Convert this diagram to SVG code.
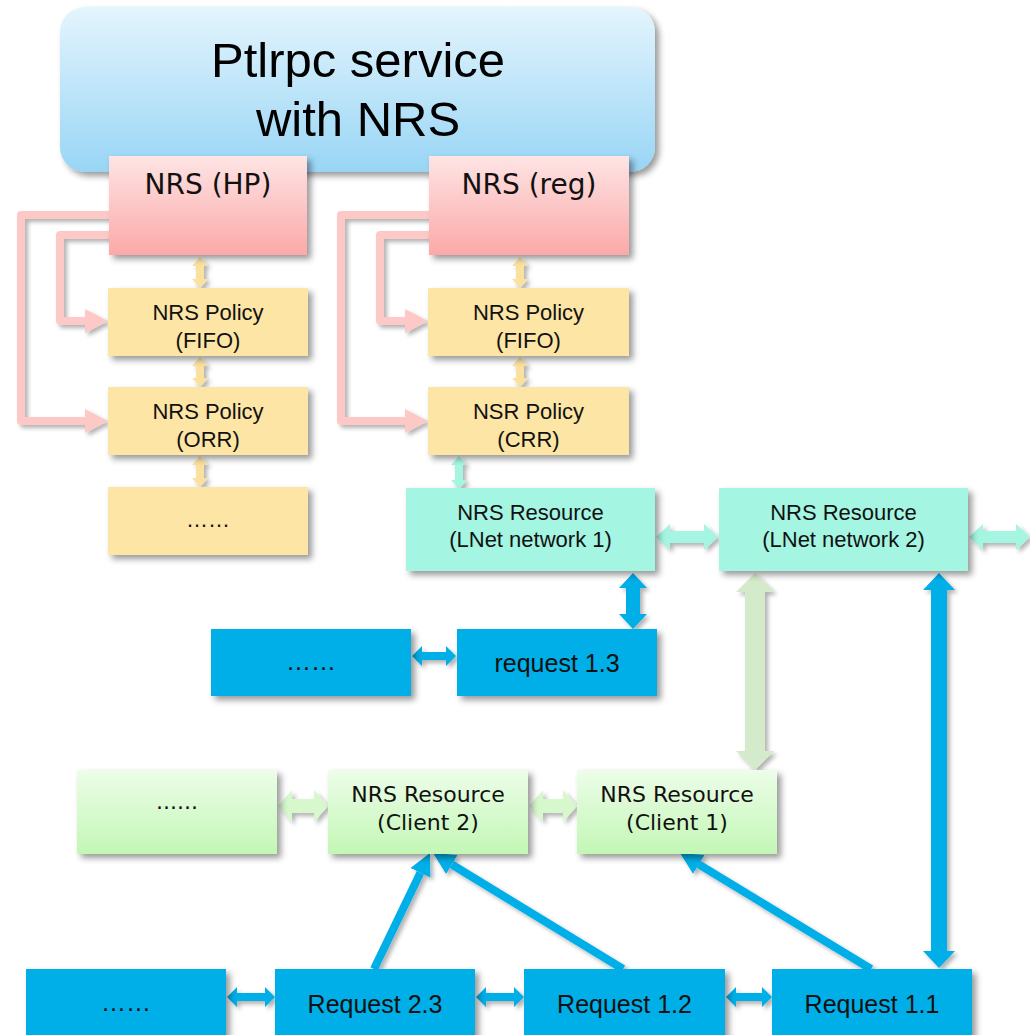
<svg xmlns="http://www.w3.org/2000/svg" width="1030" height="1035" viewBox="0 0 1030 1035">
<defs>
<linearGradient id="gTitle" x1="0" y1="0" x2="0" y2="1"><stop offset="0" stop-color="#e4f5fd"/><stop offset="1" stop-color="#98d5f5"/></linearGradient>
<linearGradient id="gPink" x1="0" y1="0" x2="0" y2="1"><stop offset="0" stop-color="#fee4e4"/><stop offset="1" stop-color="#fba9a8"/></linearGradient>
<linearGradient id="gGreen" x1="0" y1="0" x2="0" y2="1"><stop offset="0" stop-color="#edfde9"/><stop offset="1" stop-color="#c3f7b5"/></linearGradient>
<filter id="sh" x="-10%" y="-10%" width="130%" height="140%"><feDropShadow dx="4" dy="4" stdDeviation="3" flood-color="#000" flood-opacity="0.4"/></filter>
<filter id="shc" x="-20%" y="-20%" width="150%" height="150%"><feDropShadow dx="3" dy="3" stdDeviation="2" flood-color="#000" flood-opacity="0.3"/></filter>
<marker id="ah" viewBox="0 -12 22 24" refX="0" refY="0" markerWidth="22" markerHeight="24" markerUnits="userSpaceOnUse" orient="auto"><path d="M0,-11 L22,0 L0,11 z" fill="#00aee8"/></marker>
<style>
.box{filter:url(#sh);}
.yel{fill:#fde5a5;}
.teal{fill:#a4f5e1;}
.blue{fill:#00aee8;}
.t{font-family:"Liberation Sans",Arial,sans-serif;font-size:22px;fill:#111;text-anchor:middle;}
.tb{font-family:"Liberation Sans",Arial,sans-serif;font-size:25px;fill:#111;text-anchor:middle;}
.v{font-family:"DejaVu Sans",Verdana,sans-serif;font-size:22px;fill:#111;text-anchor:middle;}
.vl{font-family:"DejaVu Sans",Verdana,sans-serif;font-size:28px;fill:#111;text-anchor:middle;}
.title{font-family:"Liberation Sans",Arial,sans-serif;font-size:49px;fill:#000;text-anchor:middle;}
.pk{fill:none;stroke:#fdc9c7;stroke-width:8;stroke-linejoin:round;}
.pkh{fill:#fdc9c7;}
.ya{fill:#fbe1a0;}
.diag{stroke:#00aee8;stroke-width:8;fill:none;}
</style>
</defs>
<rect width="1030" height="1035" fill="#fff"/>

<g id="title">
<rect class="box" x="60" y="7" width="595" height="165" rx="25" fill="url(#gTitle)"/>
<text class="title" x="358" y="77">Ptlrpc service</text>
<text class="title" x="358" y="136">with NRS</text>
</g>

<g id="connectors" filter="url(#shc)">
<path class="pk" d="M110,215 H21 V421 H87"/>
<polygon class="pkh" points="85,409 108,421 85,433"/>
<path class="pk" d="M110,235 H60 V321 H87"/>
<polygon class="pkh" points="85,309 108,321 85,333"/>
<path class="pk" d="M430,215 H341 V421 H407"/>
<polygon class="pkh" points="405,409 428,421 405,433"/>
<path class="pk" d="M430,235 H380 V321 H407"/>
<polygon class="pkh" points="405,309 428,321 405,333"/>

<polygon class="ya" points="200,257 208,266 204,266 204,279 208,279 200,288 192,279 196,279 196,266 192,266"/>
<polygon class="ya" points="200,357 208,366 204,366 204,378 208,378 200,387 192,378 196,378 196,366 192,366"/>
<polygon class="ya" points="200,456 208,465 204,465 204,478 208,478 200,487 192,478 196,478 196,465 192,465"/>
<polygon class="ya" points="520,257 528,266 524,266 524,279 528,279 520,288 512,279 516,279 516,266 512,266"/>
<polygon class="ya" points="520,357 528,366 524,366 524,378 528,378 520,387 512,378 516,378 516,366 512,366"/>
<polygon class="teal" points="459,456 467,465 463,465 463,480 467,480 459,489 451,480 455,480 455,465 451,465"/>

<polygon class="teal" points="656,537 670,524 670,531 704,531 704,524 718,537 704,550 704,543 670,543 670,550"/>
<polygon class="teal" points="969,537 983,524 983,531 1016,531 1016,524 1030,537 1016,550 1016,543 983,543 983,550"/>

<polygon class="blue" points="633,573 647,588 640,588 640,614 647,614 633,629 619,614 626,614 626,588 619,588"/>
<polygon class="blue" points="412,656 422,646 422,652 446,652 446,646 456,656 446,666 446,660 422,660 422,666"/>
<polygon fill="#d3ebca" points="755,573 774,592 765,592 765,751 774,751 755,770 736,751 745,751 745,592 736,592"/>
<polygon class="blue" points="939,573 955,590 947,590 947,951 955,951 939,968 923,951 931,951 931,590 923,590"/>

<polygon fill="#d6f8cc" points="278,806 292,790 292,799 314,799 314,790 328,806 314,822 314,813 292,813 292,822"/>
<polygon fill="#d6f8cc" points="529,806 543,790 543,799 563,799 563,790 577,806 563,822 563,813 543,813 543,822"/>

<polygon class="blue" points="227,997 237,987 237,993 265,993 265,987 275,997 265,1007 265,1001 237,1001 237,1007"/>
<polygon class="blue" points="476,997 486,987 486,993 514,993 514,987 524,997 514,1007 514,1001 486,1001 486,1007"/>
<polygon class="blue" points="726,997 736,987 736,993 762,993 762,987 772,997 762,1007 762,1001 736,1001 736,1007"/>

<line class="diag" x1="374" y1="969" x2="420.4" y2="872.8" marker-end="url(#ah)"/>
<line class="diag" x1="623" y1="969" x2="451.8" y2="864.5" marker-end="url(#ah)"/>
<line class="diag" x1="871" y1="969" x2="698.8" y2="864.4" marker-end="url(#ah)"/>
</g>

<g id="nrs-hp"><rect class="box" x="109" y="156" width="198" height="99" fill="url(#gPink)"/><text class="vl" x="208" y="194">NRS (HP)</text></g>
<g id="nrs-reg"><rect class="box" x="429" y="156" width="200" height="99" fill="url(#gPink)"/><text class="vl" x="529" y="194">NRS (reg)</text></g>

<g id="hp-fifo"><rect class="box yel" x="108" y="288" width="200" height="68"/><text class="t" x="208" y="320">NRS Policy</text><text class="t" x="208" y="348">(FIFO)</text></g>
<g id="hp-orr"><rect class="box yel" x="108" y="387" width="200" height="68"/><text class="t" x="208" y="419">NRS Policy</text><text class="t" x="208" y="447">(ORR)</text></g>
<g id="hp-more"><rect class="box yel" x="108" y="487" width="200" height="68"/><text class="t" x="208" y="527">……</text></g>

<g id="reg-fifo"><rect class="box yel" x="428" y="288" width="201" height="68"/><text class="t" x="528.5" y="320">NRS Policy</text><text class="t" x="528.5" y="348">(FIFO)</text></g>
<g id="reg-crr"><rect class="box yel" x="428" y="387" width="201" height="68"/><text class="t" x="528.5" y="419">NSR Policy</text><text class="t" x="528.5" y="447">(CRR)</text></g>

<g id="lnet1"><rect class="box teal" x="406" y="488" width="249" height="83"/><text class="t" x="530.5" y="520">NRS Resource</text><text class="t" x="530.5" y="547">(LNet network 1)</text></g>
<g id="lnet2"><rect class="box teal" x="719" y="488" width="249" height="83"/><text class="t" x="843.5" y="520">NRS Resource</text><text class="t" x="843.5" y="547">(LNet network 2)</text></g>

<g id="req-more1"><rect class="box blue" x="211" y="629" width="200" height="67"/><text class="tb" x="311" y="670">……</text></g>
<g id="req13"><rect class="box blue" x="457" y="629" width="200" height="67"/><text class="tb" x="557" y="672">request 1.3</text></g>

<g id="client-more"><rect class="box" x="77" y="770" width="200" height="84" fill="url(#gGreen)"/><text class="v" x="177" y="809">......</text></g>
<g id="client2"><rect class="box" x="328" y="770" width="200" height="84" fill="url(#gGreen)"/><text class="v" x="428" y="802">NRS Resource</text><text class="v" x="428" y="830">(Client 2)</text></g>
<g id="client1"><rect class="box" x="577" y="770" width="200" height="84" fill="url(#gGreen)"/><text class="v" x="677" y="802">NRS Resource</text><text class="v" x="677" y="830">(Client 1)</text></g>

<g id="req-more2"><rect class="box blue" x="26" y="969" width="200" height="70"/><text class="tb" x="126" y="1011">……</text></g>
<g id="req23"><rect class="box blue" x="275" y="969" width="200" height="70"/><text class="tb" x="375" y="1013">Request 2.3</text></g>
<g id="req12"><rect class="box blue" x="524" y="969" width="201" height="70"/><text class="tb" x="624.5" y="1013">Request 1.2</text></g>
<g id="req11"><rect class="box blue" x="772" y="969" width="200" height="70"/><text class="tb" x="872" y="1013">Request 1.1</text></g>
</svg>
